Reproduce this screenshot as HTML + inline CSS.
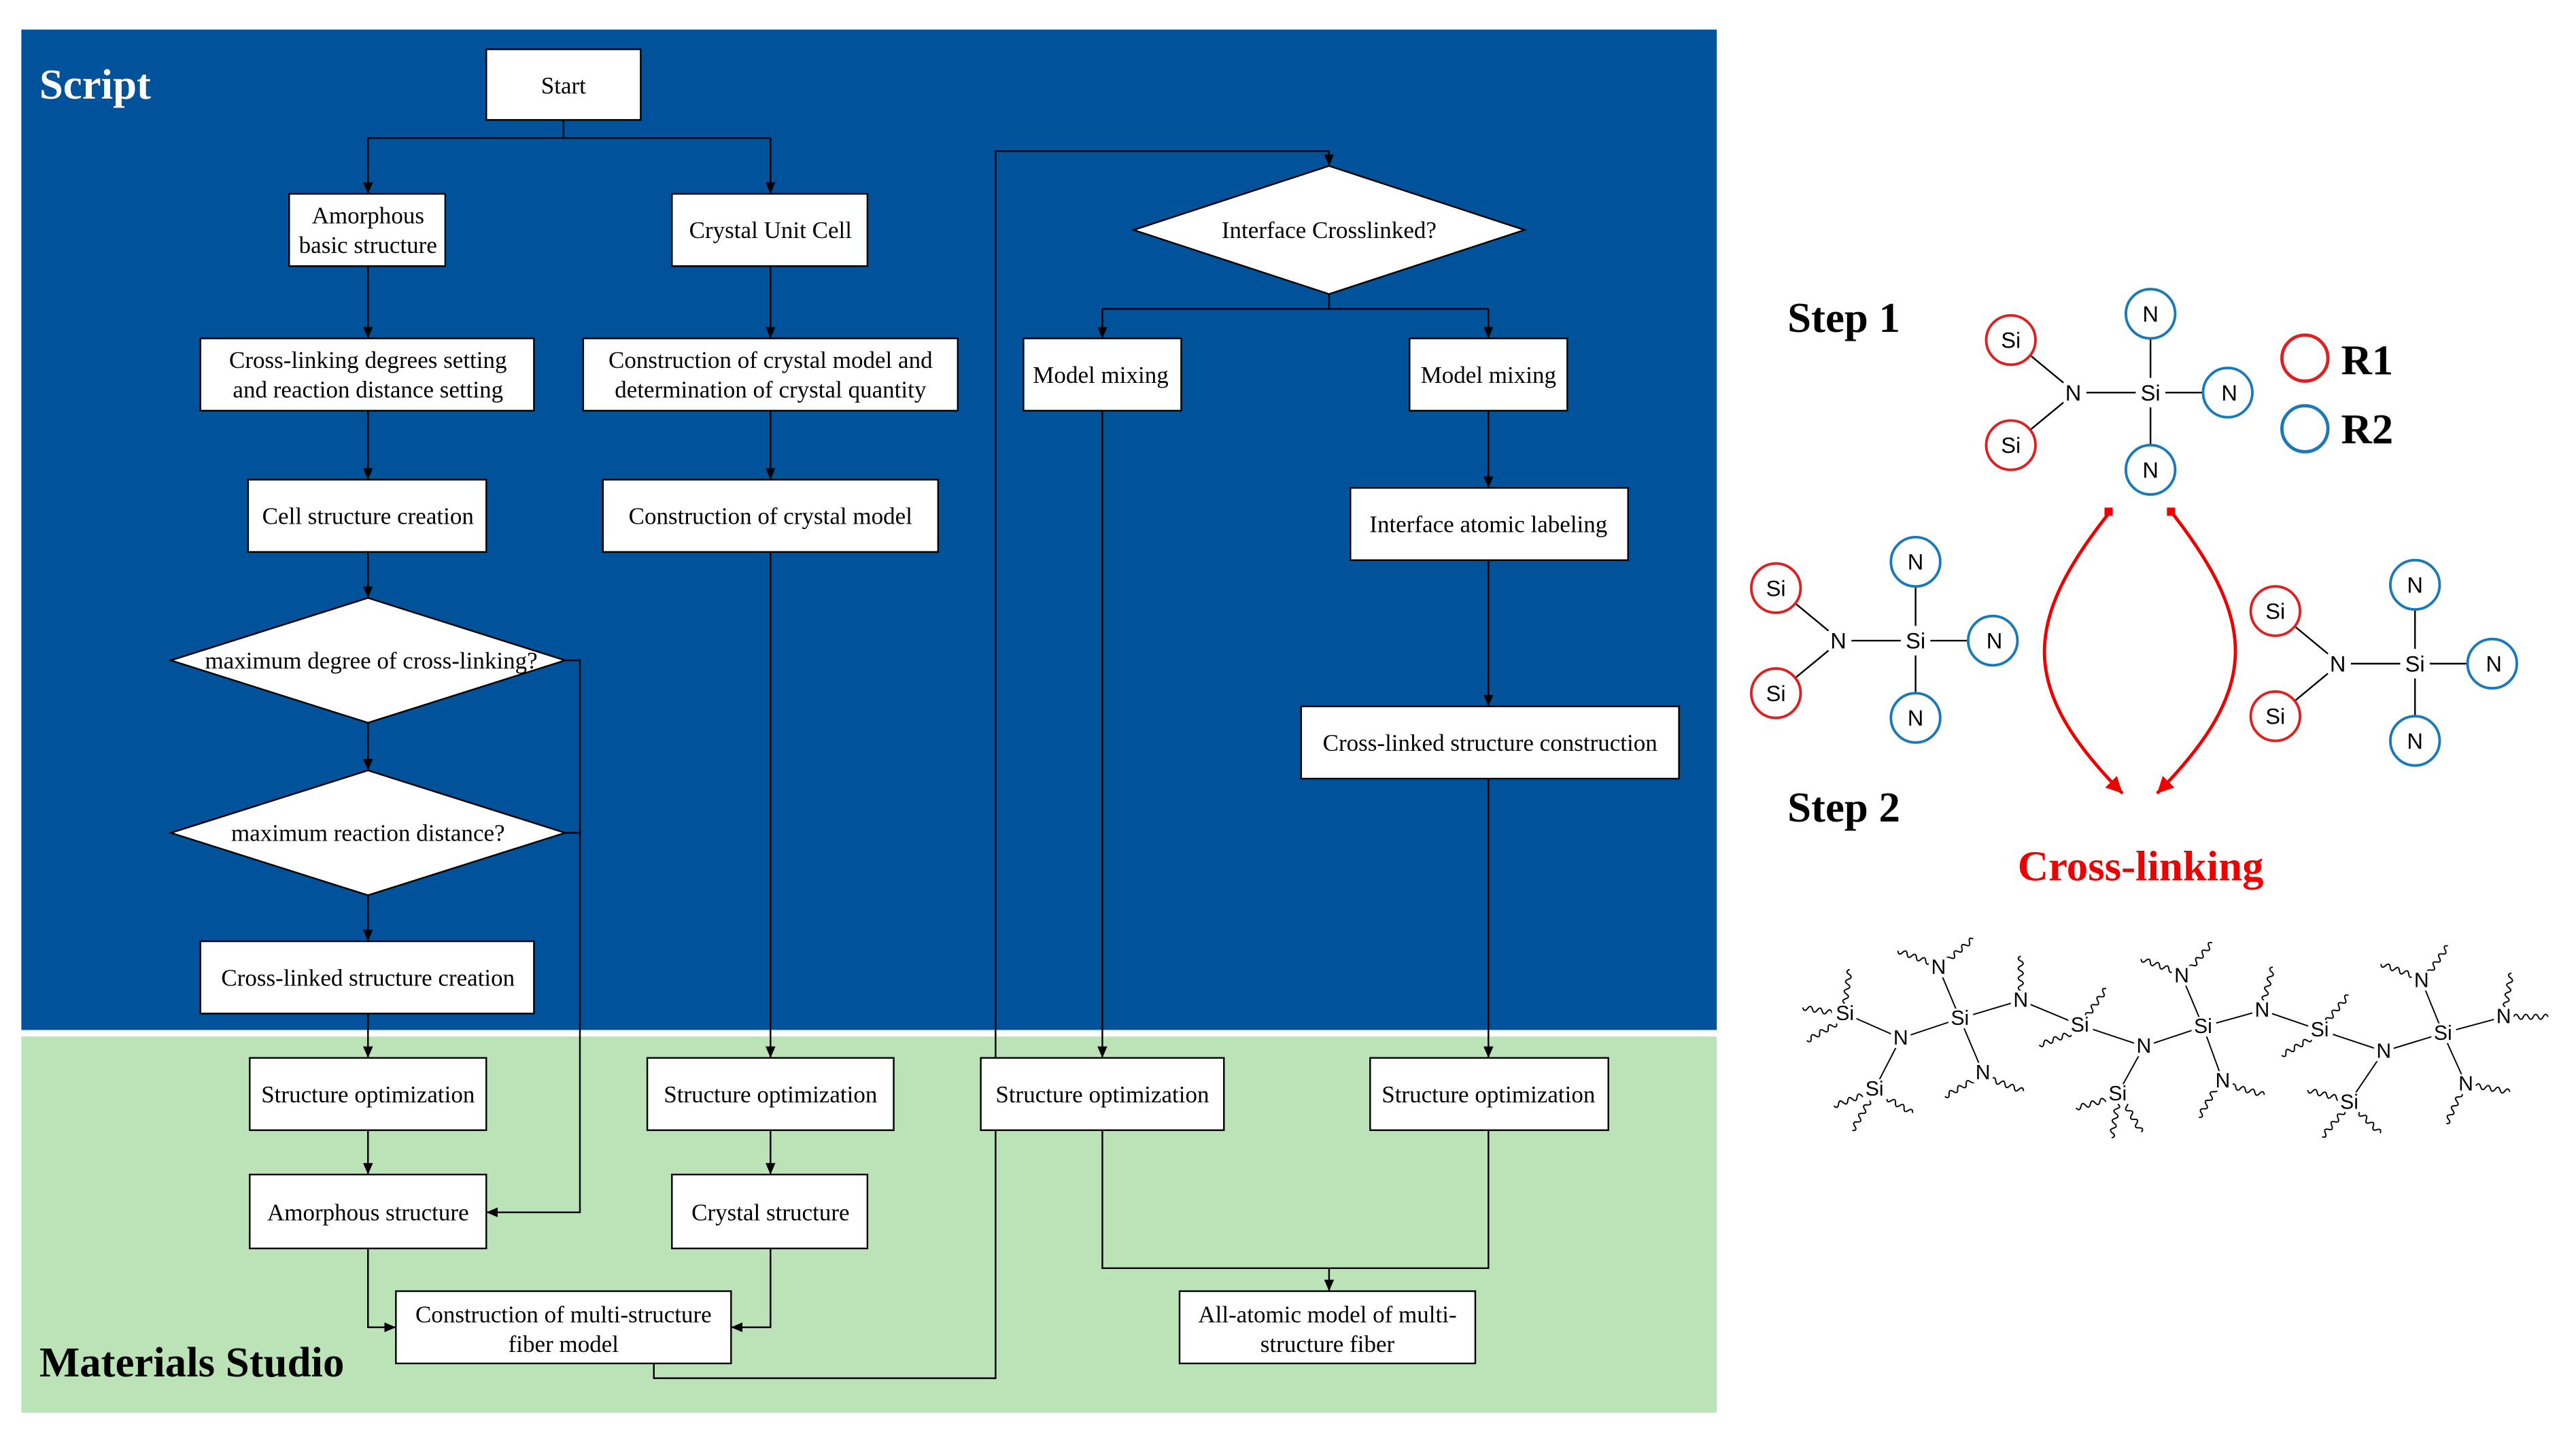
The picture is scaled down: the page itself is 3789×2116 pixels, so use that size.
<!DOCTYPE html>
<html><head><meta charset="utf-8"><style>
html,body{margin:0;padding:0;background:#fff}
svg{display:block}
.t{font-family:"Liberation Serif",serif;font-size:14.5px;fill:#000;text-anchor:middle}
.b{fill:#fff;stroke:#000;stroke-width:1}
.l{fill:none;stroke:#000;stroke-width:1}
.a{font-family:"Liberation Sans",sans-serif;font-size:13.5px;text-anchor:middle;dominant-baseline:central}
.c{font-family:"Liberation Sans",sans-serif;font-size:12.5px;text-anchor:middle;dominant-baseline:central}
</style></head><body>
<svg width="3789" height="2116" viewBox="0 0 1568 876" preserveAspectRatio="none">
<defs>
<marker id="ar" markerWidth="8" markerHeight="8" refX="7" refY="4" orient="auto" markerUnits="userSpaceOnUse"><path d="M0,1 L7,4 L0,7z" fill="#000"/></marker>
<marker id="rr" markerWidth="12" markerHeight="12" refX="10" refY="5" orient="auto" markerUnits="userSpaceOnUse"><path d="M0,0 L10,5 L0,10z" fill="#e00"/></marker>
<path id="w" d="M0,0 q1.5,-3 3,0 t3,0 t3,0 t3,0 t3,0 t3,0 t3,0" fill="none" stroke="#000" stroke-width="0.8"/>
</defs>
<rect x="13" y="18" width="1032" height="609" fill="#00529b"/>
<rect x="13" y="631" width="1032" height="229" fill="#bce2b8"/>
<text x="24" y="60" style="font-family:'Liberation Serif',serif;font-weight:bold;font-size:26px;fill:#fff">Script</text>
<text x="24" y="838" style="font-family:'Liberation Serif',serif;font-weight:bold;font-size:26px;fill:#000">Materials Studio</text>

<g class="l">
<path d="M343,73 V84 M224,84 H469"/>
<path d="M224,84 V118" marker-end="url(#ar)"/>
<path d="M469,84 V118" marker-end="url(#ar)"/>
<path d="M224,162 V206" marker-end="url(#ar)"/>
<path d="M224,250 V292" marker-end="url(#ar)"/>
<path d="M224,336 V364" marker-end="url(#ar)"/>
<path d="M224,440 V469" marker-end="url(#ar)"/>
<path d="M224,545 V573" marker-end="url(#ar)"/>
<path d="M224,617 V644" marker-end="url(#ar)"/>
<path d="M224,688 V715" marker-end="url(#ar)"/>
<path d="M344,402 H353 V738 H296" marker-end="url(#ar)"/>
<path d="M344,507 H353"/>
<path d="M469,162 V206" marker-end="url(#ar)"/>
<path d="M469,250 V292" marker-end="url(#ar)"/>
<path d="M469,336 V644" marker-end="url(#ar)"/>
<path d="M469,688 V715" marker-end="url(#ar)"/>
<path d="M224,760 V808 H241" marker-end="url(#ar)"/>
<path d="M469,760 V808 H445" marker-end="url(#ar)"/>
<path d="M398,830 V839 H606 V92 H809 V101" marker-end="url(#ar)"/>
<path d="M809,179 V188 M671,188 H906"/>
<path d="M671,188 V206" marker-end="url(#ar)"/>
<path d="M906,188 V206" marker-end="url(#ar)"/>
<path d="M671,250 V644" marker-end="url(#ar)"/>
<path d="M906,250 V297" marker-end="url(#ar)"/>
<path d="M906,341 V430" marker-end="url(#ar)"/>
<path d="M906,474 V644" marker-end="url(#ar)"/>
<path d="M671,688 V772 H906 V688 M809,772 V786" marker-end="url(#ar)"/>
</g>

<rect class="b" x="296" y="30" width="94" height="43"/><text class="t" x="343" y="57">Start</text>
<rect class="b" x="176" y="118" width="95" height="44"/><text class="t" x="224" y="136">Amorphous</text><text class="t" x="224" y="154">basic structure</text>
<rect class="b" x="409" y="118" width="119" height="44"/><text class="t" x="469" y="145">Crystal Unit Cell</text>
<rect class="b" x="122" y="206" width="203" height="44"/><text class="t" x="224" y="224">Cross-linking degrees setting</text><text class="t" x="224" y="242">and reaction distance setting</text>
<rect class="b" x="355" y="206" width="228" height="44"/><text class="t" x="469" y="224">Construction of crystal model and</text><text class="t" x="469" y="242">determination of crystal quantity</text>
<rect class="b" x="151" y="292" width="145" height="44"/><text class="t" x="224" y="319">Cell structure creation</text>
<rect class="b" x="367" y="292" width="204" height="44"/><text class="t" x="469" y="319">Construction of crystal model</text>
<polygon class="b" points="224,364 344,402 224,440 104,402"/><text class="t" x="226" y="407">maximum degree of cross-linking?</text>
<polygon class="b" points="224,469 344,507 224,545 104,507"/><text class="t" x="224" y="512">maximum reaction distance?</text>
<rect class="b" x="122" y="573" width="203" height="44"/><text class="t" x="224" y="600">Cross-linked structure creation</text>
<rect class="b" x="152" y="644" width="144" height="44"/><text class="t" x="224" y="671">Structure optimization</text>
<rect class="b" x="152" y="715" width="144" height="45"/><text class="t" x="224" y="743">Amorphous structure</text>
<rect class="b" x="394" y="644" width="150" height="44"/><text class="t" x="469" y="671">Structure optimization</text>
<rect class="b" x="409" y="715" width="119" height="45"/><text class="t" x="469" y="743">Crystal structure</text>
<rect class="b" x="241" y="786" width="204" height="44"/><text class="t" x="343" y="805">Construction of multi-structure</text><text class="t" x="343" y="823">fiber model</text>
<polygon class="b" points="809,101 928,140 809,179 690,140"/><text class="t" x="809" y="145">Interface Crosslinked?</text>
<rect class="b" x="623" y="206" width="96" height="44"/><text class="t" x="670" y="233">Model mixing</text>
<rect class="b" x="858" y="206" width="96" height="44"/><text class="t" x="906" y="233">Model mixing</text>
<rect class="b" x="822" y="297" width="169" height="44"/><text class="t" x="906" y="324">Interface atomic labeling</text>
<rect class="b" x="792" y="430" width="230" height="44"/><text class="t" x="907" y="457">Cross-linked structure construction</text>
<rect class="b" x="597" y="644" width="148" height="44"/><text class="t" x="671" y="671">Structure optimization</text>
<rect class="b" x="834" y="644" width="145" height="44"/><text class="t" x="906" y="671">Structure optimization</text>
<rect class="b" x="718" y="786" width="180" height="44"/><text class="t" x="808" y="805">All-atomic model of multi-</text><text class="t" x="808" y="823">structure fiber</text>

<g style="font-family:'Liberation Serif',serif;font-weight:bold;font-size:26px">
<text x="1088" y="202">Step 1</text><text x="1088" y="500">Step 2</text>
<text x="1425" y="228">R1</text><text x="1425" y="270">R2</text>
<text x="1303" y="536" fill="#e00" text-anchor="middle">Cross-linking</text>
</g>
<circle cx="1403" cy="218" r="14" fill="none" stroke="#e02020" stroke-width="2"/>
<circle cx="1403" cy="261" r="14" fill="none" stroke="#1a7ab8" stroke-width="2"/>

<g id="mol">
<g class="l"><path d="M1233,214 L1256,233 M1233,264 L1256,245 M1270,239 H1300 M1318,239 H1342 M1309,205 V230 M1309,248 V272"/></g>
<circle cx="1224" cy="207" r="15" fill="#fff" stroke="#e02020" stroke-width="1.6"/>
<circle cx="1224" cy="271" r="15" fill="#fff" stroke="#e02020" stroke-width="1.6"/>
<circle cx="1309" cy="191" r="15" fill="#fff" stroke="#1a7ab8" stroke-width="1.6"/>
<circle cx="1356" cy="239" r="15" fill="#fff" stroke="#1a7ab8" stroke-width="1.6"/>
<circle cx="1309" cy="286" r="15" fill="#fff" stroke="#1a7ab8" stroke-width="1.6"/>
<text class="a" x="1224" y="207">Si</text><text class="a" x="1224" y="271">Si</text>
<text class="a" x="1262" y="239">N</text><text class="a" x="1309" y="239">Si</text>
<text class="a" x="1309" y="191">N</text><text class="a" x="1357" y="239">N</text><text class="a" x="1309" y="286">N</text>
</g>
<use href="#mol" transform="translate(-143,151)"/>
<use href="#mol" transform="translate(161,165)"/>

<path d="M1284,312 C1230,380 1230,420 1292,483" fill="none" stroke="#e00" stroke-width="2" marker-end="url(#rr)"/>
<path d="M1322,312 C1375,380 1375,420 1313,483" fill="none" stroke="#e00" stroke-width="2" marker-end="url(#rr)"/>
<rect x="1281" y="309" width="5" height="5" fill="#e00"/><rect x="1319" y="309" width="5" height="5" fill="#e00"/>

<g transform="translate(0,55)">
<g stroke="#000" stroke-width="0.8" fill="none">
<path d="M1123,562 L1157,577 L1193,565 M1157,577 L1141,608 M1193,565 L1180,534 M1193,565 L1207,598 M1193,565 L1230,554 L1266,569 L1305,582 L1289,611 M1305,582 L1341,570 L1328,539 M1341,570 L1353,603 M1341,570 L1377,560 L1412,572 L1451,585 L1430,616 M1451,585 L1487,574 L1474,542 M1487,574 L1524,564 M1487,574 L1501,605"/>
</g>
<g>
<use href="#w" transform="translate(1118,562) rotate(190)"/>
<use href="#w" transform="translate(1123,556) rotate(-82)"/>
<use href="#w" transform="translate(1118,568) rotate(150)"/>
<use href="#w" transform="translate(1175,531) rotate(200)"/>
<use href="#w" transform="translate(1185,530) rotate(-40)"/>
<use href="#w" transform="translate(1136,611) rotate(160)"/>
<use href="#w" transform="translate(1138,615) rotate(120)"/>
<use href="#w" transform="translate(1146,612) rotate(30)"/>
<use href="#w" transform="translate(1202,602) rotate(150)"/>
<use href="#w" transform="translate(1212,602) rotate(20)"/>
<use href="#w" transform="translate(1230,548) rotate(-90)"/>
<use href="#w" transform="translate(1270,564) rotate(-55)"/>
<use href="#w" transform="translate(1261,574) rotate(160)"/>
<use href="#w" transform="translate(1284,614) rotate(165)"/>
<use href="#w" transform="translate(1289,617) rotate(100)"/>
<use href="#w" transform="translate(1293,616) rotate(60)"/>
<use href="#w" transform="translate(1323,536) rotate(200)"/>
<use href="#w" transform="translate(1333,535) rotate(-50)"/>
<use href="#w" transform="translate(1349,607) rotate(120)"/>
<use href="#w" transform="translate(1358,606) rotate(15)"/>
<use href="#w" transform="translate(1378,554) rotate(-75)"/>
<use href="#w" transform="translate(1416,567) rotate(-50)"/>
<use href="#w" transform="translate(1407,577) rotate(150)"/>
<use href="#w" transform="translate(1425,614) rotate(195)"/>
<use href="#w" transform="translate(1427,621) rotate(130)"/>
<use href="#w" transform="translate(1434,620) rotate(45)"/>
<use href="#w" transform="translate(1469,539) rotate(200)"/>
<use href="#w" transform="translate(1478,538) rotate(-55)"/>
<use href="#w" transform="translate(1530,564) rotate(0)"/>
<use href="#w" transform="translate(1525,558) rotate(-80)"/>
<use href="#w" transform="translate(1507,606) rotate(10)"/>
<use href="#w" transform="translate(1498,610) rotate(115)"/>
</g>
<g fill="#fff">
<rect x="1115" y="556" width="15" height="12"/><rect x="1151" y="571" width="12" height="12"/><rect x="1186" y="559" width="15" height="12"/>
<rect x="1134" y="602" width="15" height="12"/><rect x="1174" y="528" width="12" height="12"/><rect x="1201" y="592" width="12" height="12"/>
<rect x="1224" y="548" width="12" height="12"/><rect x="1259" y="563" width="15" height="12"/><rect x="1299" y="576" width="12" height="12"/>
<rect x="1282" y="605" width="15" height="12"/><rect x="1334" y="564" width="15" height="12"/><rect x="1322" y="533" width="12" height="12"/>
<rect x="1347" y="597" width="12" height="12"/><rect x="1371" y="554" width="12" height="12"/><rect x="1405" y="566" width="15" height="12"/>
<rect x="1445" y="579" width="12" height="12"/><rect x="1423" y="610" width="15" height="12"/><rect x="1480" y="568" width="15" height="12"/>
<rect x="1468" y="536" width="12" height="12"/><rect x="1518" y="558" width="12" height="12"/><rect x="1495" y="599" width="12" height="12"/>
</g>
<g>
<text class="c" x="1123" y="562">Si</text><text class="c" x="1157" y="577">N</text><text class="c" x="1193" y="565">Si</text>
<text class="c" x="1141" y="608">Si</text><text class="c" x="1180" y="534">N</text><text class="c" x="1207" y="598">N</text>
<text class="c" x="1230" y="554">N</text><text class="c" x="1266" y="569">Si</text><text class="c" x="1305" y="582">N</text>
<text class="c" x="1289" y="611">Si</text><text class="c" x="1341" y="570">Si</text><text class="c" x="1328" y="539">N</text>
<text class="c" x="1353" y="603">N</text><text class="c" x="1377" y="560">N</text><text class="c" x="1412" y="572">Si</text>
<text class="c" x="1451" y="585">N</text><text class="c" x="1430" y="616">Si</text><text class="c" x="1487" y="574">Si</text>
<text class="c" x="1474" y="542">N</text><text class="c" x="1524" y="564">N</text><text class="c" x="1501" y="605">N</text>
</g>
</g>
</svg>
</body></html>
